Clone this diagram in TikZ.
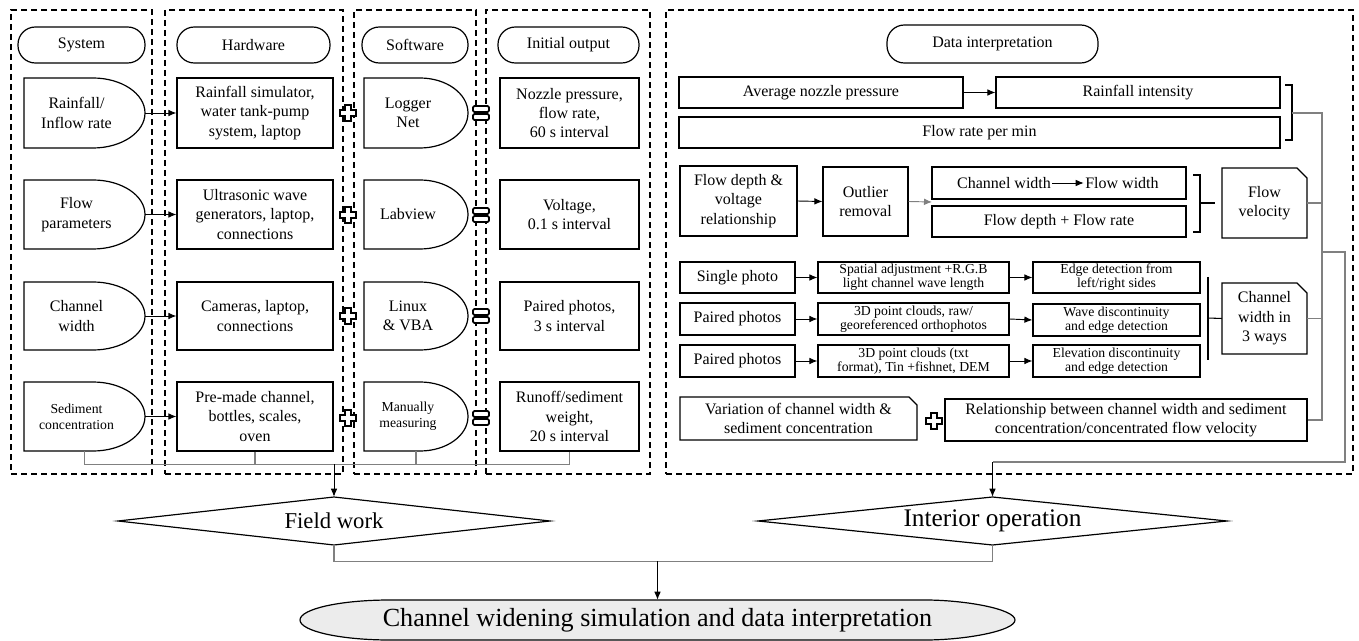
\documentclass[tikz,border=0pt]{standalone}
\usepackage{fontspec}
\setmainfont{Liberation Serif}
\usetikzlibrary{arrows.meta,calc}

\newcommand{\nd}[7]{\node[#1,minimum width={(#4-#3)*0.75pt},minimum height={(#6-#5)*0.75pt}] (#2) at ({(#3+#4)/2},{(#5+#6)/2}) {#7};}
\newcommand{\dly}[8][]{%
 \nd{plain}{#2}{#3}{#4}{#5}{#6}{}%
 \draw[boxline] (#3,#5) -- ({#4-#7},#5) .. controls ({#4-0.448*#7},#5) and (#4,{#5+0.224*(#6-#5)}) .. (#4,{(#5+#6)/2}) .. controls (#4,{#6-0.224*(#6-#5)}) and ({#4-0.448*#7},#6) .. ({#4-#7},#6) -- (#3,#6) -- cycle;%
 \node[plain,#1] (#2t) at ([xshift=-6pt]#2.center) {#8};}
\newcommand{\chb}[8][]{%
 \draw[boxline] (#3,#5) -- ({#4-#7},#5) -- (#4,{#5+#7}) -- (#4,#6) -- (#3,#6) -- cycle;%
 \nd{plain,#1}{#2}{#3}{#4}{#5}{#6}{#8}}
\newcommand{\plussym}[3]{%
 \node[inner sep=0pt,minimum size=12pt] (#1) at (#2,#3) {};%
 \draw[line width=0.9pt,fill=white] (#2,#3) ++(-3,-8) -- ++(6,0) -- ++(0,5) -- ++(5,0) -- ++(0,6) -- ++(-5,0) -- ++(0,5) -- ++(-6,0) -- ++(0,-5) -- ++(-5,0) -- ++(0,-6) -- ++(5,0) -- cycle;}
\newcommand{\eqsym}[3]{%
 \node[inner sep=0pt,minimum size=12pt] (#1) at (#2,#3) {};%
 \draw[line width=1.3pt,fill=white,rounded corners=1pt] ({#2-8},{#3-7}) rectangle ({#2+8},{#3-1});%
 \draw[line width=1.3pt,fill=white,rounded corners=1pt] ({#2-8},{#3+1}) rectangle ({#2+8},{#3+7});}

\tikzset{
 boxline/.style={draw=black, line width=0.9pt},
 plain/.style={draw=none, align=center, inner sep=1pt, font=\fontsize{12}{14.5}\selectfont},
 box/.style={plain, draw=black, line width=0.9pt},
 pill/.style={box, rounded corners=13pt},
 small/.style={font=\fontsize{10.3}{12}\selectfont},
 tiny/.style={font=\fontsize{10.3}{10.3}\selectfont},
 colbox/.style={draw=black, line width=1pt, dash pattern=on 4.5pt off 3pt},
 arr/.style={draw=black, line width=0.7pt, -{Latex[length=6pt,width=5pt]}},
 bus/.style={draw=black!50, line width=0.8pt},
 brk/.style={draw=black, line width=0.8pt},
}

\begin{document}
\begin{tikzpicture}[x=0.75pt,y=-0.75pt]
\useasboundingbox (0,0) rectangle (1359,641);
\fill[white] (0,0) rectangle (1359,641);

% column containers
\nd{colbox}{csys}{11}{152}{10}{474}{}
\nd{colbox}{chw}{165}{343}{10}{474}{}
\nd{colbox}{csw}{354}{476}{10}{474}{}
\nd{colbox}{cout}{486}{650}{10}{474}{}
\nd{colbox}{cdata}{666}{1353}{10}{474}{}

% headers
\nd{pill}{hsys}{18}{145}{27}{63}{System}
\nd{pill}{hhw}{177}{330}{27}{63}{Hardware}
\nd{pill}{hsw}{362}{468}{27}{63}{Software}
\nd{pill}{hout}{498}{639}{27}{63}{Initial output}
\nd{pill}{hdata}{887}{1098}{25}{63}{Data interpretation}

% system
\dly{s1}{24}{145}{78}{148}{52}{Rainfall/\\Inflow rate}
\dly{s2}{24}{145}{180}{249}{52}{Flow\\parameters}
\dly{s3}{24}{145}{282}{350}{52}{Channel\\width}
\dly[small]{s4}{24}{145}{382}{451}{52}{Sediment\\concentration}

% hardware
\nd{box}{h1}{177}{333}{78}{148}{Rainfall simulator,\\water tank-pump\\system, laptop}
\nd{box}{h2}{177}{333}{180}{249}{Ultrasonic wave\\generators, laptop,\\connections}
\nd{box}{h3}{177}{333}{282}{350}{Cameras, laptop,\\connections}
\nd{box}{h4}{177}{333}{382}{451}{Pre-made channel,\\bottles, scales,\\oven}

% software
\dly{w1}{364}{468}{78}{148}{48}{Logger\\Net}
\dly{w2}{364}{468}{180}{249}{48}{Labview}
\dly{w3}{364}{468}{282}{350}{48}{Linux\\\& VBA}
\dly[small]{w4}{364}{468}{382}{451}{48}{Manually\\measuring}

% initial output
\nd{box}{o1}{500}{639}{78}{148}{Nozzle pressure,\\flow rate,\\60 s interval}
\nd{box}{o2}{500}{639}{180}{249}{Voltage,\\0.1 s interval}
\nd{box}{o3}{500}{639}{282}{350}{Paired photos,\\3 s interval}
\nd{box}{o4}{500}{639}{382}{451}{Runoff/sediment\\weight,\\20 s interval}

% arrows and symbols
\draw[arr] (s1.east) -- (h1.west);
\draw[arr] (s2.east) -- (h2.west);
\draw[arr] (s3.east) -- (h3.west);
\draw[arr] (s4.east) -- (h4.west);
\plussym{p1}{348}{113}
\plussym{p2}{348}{215}
\plussym{p3}{348}{316}
\plussym{p4}{348}{418}
\eqsym{e1}{481}{113}
\eqsym{e2}{481}{215}
\eqsym{e3}{481}{316}
\eqsym{e4}{481}{418}

% bottom bus of field work
\coordinate (fb) at (334,464);
\draw[bus] (s4.south) -- ++(0,13) -| (o4.south);
\draw[bus] (h4.south) -- (h4.south |- fb);
\draw[bus] (w4.south) -- (w4.south |- fb);

% data interpretation
\nd{box}{anp}{679}{963}{77}{108}{Average nozzle pressure}
\nd{box}{ri}{996}{1280}{77}{108}{Rainfall intensity}
\nd{box}{fr}{679}{1280}{117}{148}{Flow rate per min}
\draw[arr] (anp.east) -- (ri.west);
\draw[brk] (1285,85) -- (1292,85) -- (1292,140) -- (1285,140);
\coordinate (b1) at (1292,113);

\nd{box}{fd}{680}{797}{166}{236}{Flow depth \&\\voltage\\relationship}
\nd{box}{ol}{823}{908}{167}{236}{Outlier\\removal}
\nd{box}{cw}{932}{1186}{167}{199}{}
\node[plain] (cwa) at (1004,183) {Channel width};
\node[plain] (cwb) at (1122,183) {Flow width};
\draw[arr] (cwa.east) -- (cwb.west);
\nd{box}{fdr}{932}{1186}{206}{237}{Flow depth + Flow rate}
\draw[arr] (fd.east) -- (ol.west);
\coordinate (j2) at (932,202);
\draw[arr,draw=black!50] (ol.east) -- (j2);
\draw[brk] (1193,175) -- (1200,175) -- (1200,232) -- (1193,232);
\draw[brk] (1200,203) -- (1215,203);
\chb{fv}{1222}{1307}{168}{238}{10}{Flow\\velocity}

\nd{box}{ph1}{680}{795}{262}{293}{Single photo}
\nd{box,tiny}{m1}{818}{1009}{262}{293}{Spatial adjustment +R.G.B\\light channel wave length}
\nd{box,tiny}{ed1}{1033}{1200}{262}{293}{Edge detection from\\left/right sides}
\nd{box}{ph2}{680}{795}{303}{335}{Paired photos}
\nd{box,tiny}{m2}{818}{1009}{303}{335}{3D point clouds, raw/\\georeferenced orthophotos}
\nd{box,tiny}{ed2}{1033}{1200}{304}{336}{Wave discontinuity\\and edge detection}
\nd{box}{ph3}{680}{795}{345}{377}{Paired photos}
\nd{box,tiny}{m3}{818}{1009}{345}{377}{3D point clouds (txt\\format), Tin +fishnet, DEM}
\nd{box,tiny}{ed3}{1033}{1200}{345}{377}{Elevation discontinuity\\and edge detection}
\draw[arr] (ph1.east) -- (m1.west);
\draw[arr] (m1.east) -- (ed1.west);
\draw[arr] (ph2.east) -- (m2.west);
\draw[arr] (m2.east) -- (ed2.west);
\draw[arr] (ph3.east) -- (m3.west);
\draw[arr] (m3.east) -- (ed3.west);
\chb{cw3}{1222}{1307}{283}{354}{10}{Channel\\width in\\3 ways}
\draw[brk] (1208,277) -- (1208,360);
\draw[brk] (1208,318) -- (cw3.west);

\chb{var}{680}{917}{397}{440}{8}{Variation of channel width \&\\sediment concentration}
\plussym{p5}{934}{421}
\nd{box}{rel}{945}{1307}{399}{441}{Relationship between channel width and sediment\\concentration/concentrated flow velocity}

% right bus
\coordinate (v1) at (1322,113);
\coordinate (v2) at (1322,420);
\coordinate (v3) at (1322,252);
\coordinate (v4) at (1345,252);
\coordinate (v5) at (1345,462);
\coordinate (j1) at (992.5,462);
\draw[bus] (b1) -- (v1) -- (v2) -- (rel.east);
\draw[bus] (fv.east) -- (fv.east -| v1);
\draw[bus] (cw3.east) -- (cw3.east -| v1);
\draw[bus] (v3) -- (v4) -- (v5) -- (j1);

% bottom
\draw[boxline] (118,521) -- (334,497) -- (550,521) -- (334,545) -- cycle;
\nd{plain,font=\fontsize{17}{20}\selectfont}{fw}{118}{550}{497}{545}{Field work}
\draw[boxline] (758,521) -- (992.5,497) -- (1227,521) -- (992.5,545) -- cycle;
\nd{plain,font=\fontsize{19}{22}\selectfont}{io}{758}{1227}{497}{545}{Interior operation}
\draw[arr] (fb) -- (fw.north);
\draw[arr] (j1) -- (io.north);

\draw[boxline, fill=gray!15] (390,600) -- (925,600) .. controls (965,600) and (1015,609) .. (1015,620) .. controls (1015,631) and (965,640) .. (925,640) -- (390,640) .. controls (340,640) and (300,631) .. (300,620) .. controls (300,609) and (340,600) .. (390,600) -- cycle;
\nd{plain,font=\fontsize{19.6}{22}\selectfont}{fin}{300}{1015}{600}{640}{Channel widening simulation and data interpretation}
\coordinate (j3) at (657.5,561);
\draw[bus] (fw.south) -- ++(0,16) -| (io.south);
\draw[arr] (j3) -- (fin.north);
\end{tikzpicture}
\end{document}
